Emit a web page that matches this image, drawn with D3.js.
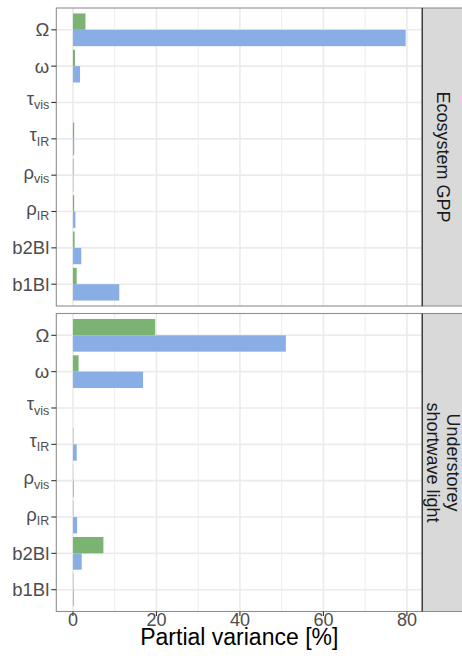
<!DOCTYPE html>
<html>
<head>
<meta charset="utf-8">
<script src="https://cdn.jsdelivr.net/npm/d3@7"></script>
<style>
  html, body { margin: 0; padding: 0; background: #fff; }
  svg { display: block; font-family: "Liberation Sans", Arial, Helvetica, sans-serif; }
</style>
</head>
<body>
<svg id="chart" width="462" height="662"></svg>
<script>
// Parameters (symbol + optional subscript), top to bottom
const paramSymbols    = ["Ω", "ω", "τ", "τ", "ρ", "ρ", "b2Bl", "b1Bl"];
const paramSubscripts = ["",  "",  "vis", "IR", "vis", "IR", "", ""];
const paramKeys = paramSymbols.map((s, i) => s + "_" + paramSubscripts[i]);

// Response variables (facet rows)
const facetLabels = [["Ecosystem GPP"], ["Understorey", "shortwave light"]];

// Partial variance [%], two series per facet (upper bar, lower bar)
const gppSeriesA   = [3.0, 0.5, 0, 0.3, 0.15, 0.3, 0.4, 0.9];
const gppSeriesB   = [79.7, 1.7, 0, 0.3, 0.1, 0.6, 2.0, 11.1];
const lightSeriesA = [19.7, 1.35, 0, 0.1, 0.05, 0.1, 7.3, 0.1];
const lightSeriesB = [51.0, 16.8, 0, 0.9, 0.2, 1.0, 2.1, 0.2];

const seriesKeys = ["A", "B"];
const seriesColors = { A: "#7bb372", B: "#89ade5" };

const xTicks = [0, 20, 40, 60, 80];
const xMinorTicks = [10, 30, 50, 70];
const xTitle = "Partial variance [%]";

const facetData = [
  { A: gppSeriesA, B: gppSeriesB },
  { A: lightSeriesA, B: lightSeriesB }
];

// Layout
const panelLeft = 56.3, panelRight = 422.3, stripRight = 470;
const panels = [[8, 306], [313.5, 611.5]];

const svg = d3.select("#chart");

const maxVal = d3.max(facetData.flatMap(f => [...f.A, ...f.B]));
const pad = maxVal * 0.05;
const x = d3.scaleLinear().domain([-pad, maxVal + pad]).range([panelLeft, panelRight]);

facetData.forEach((fd, pi) => {
  const [top, bottom] = panels[pi];
  const y = d3.scaleBand().domain(paramKeys).range([top, bottom])
    .paddingInner(0.1).paddingOuter(0.15);
  const ySub = d3.scaleBand().domain(seriesKeys).range([0, y.bandwidth()]);
  const center = k => y(k) + y.bandwidth() / 2;

  const g = svg.append("g");

  // panel background
  g.append("rect").attr("x", panelLeft).attr("y", top)
    .attr("width", panelRight - panelLeft).attr("height", bottom - top)
    .attr("fill", "#fff");

  // grid: minor vertical
  g.selectAll(".gmin").data(xMinorTicks).join("line")
    .attr("x1", d => x(d)).attr("x2", d => x(d))
    .attr("y1", top).attr("y2", bottom)
    .attr("stroke", "#ededed").attr("stroke-width", 1);
  // grid: major vertical
  g.selectAll(".gmaj").data(xTicks).join("line")
    .attr("x1", d => x(d)).attr("x2", d => x(d))
    .attr("y1", top).attr("y2", bottom)
    .attr("stroke", "#ebebeb").attr("stroke-width", 1.6);
  // grid: horizontal at categories
  g.selectAll(".gh").data(paramKeys).join("line")
    .attr("x1", panelLeft).attr("x2", panelRight)
    .attr("y1", d => center(d)).attr("y2", d => center(d))
    .attr("stroke", "#ebebeb").attr("stroke-width", 1.6);

  // bars
  seriesKeys.forEach(s => {
    g.selectAll(".bar" + s).data(paramKeys.map((k, i) => ({ k, v: fd[s][i] })))
      .join("rect")
      .attr("x", d => x(Math.min(0, d.v)))
      .attr("y", d => y(d.k) + ySub(s))
      .attr("width", d => Math.abs(x(d.v) - x(0)))
      .attr("height", ySub.bandwidth())
      .attr("fill", seriesColors[s]);
  });

  // panel border
  g.append("rect").attr("x", panelLeft).attr("y", top)
    .attr("width", panelRight - panelLeft).attr("height", bottom - top)
    .attr("fill", "none").attr("stroke", "#8f8f8f").attr("stroke-width", 1.1);

  // strip
  g.append("rect").attr("x", panelRight).attr("y", top)
    .attr("width", stripRight - panelRight).attr("height", bottom - top)
    .attr("fill", "#d9d9d9").attr("stroke", "#8f8f8f").attr("stroke-width", 1.1);
  g.append("line").attr("x1", panelRight).attr("x2", panelRight)
    .attr("y1", top).attr("y2", bottom)
    .attr("stroke", "#3a3a3a").attr("stroke-width", 1.3);

  const lines = facetLabels[pi];
  const st = g.append("text")
    .attr("transform", `translate(443,${(top + bottom) / 2}) rotate(90)`)
    .attr("text-anchor", "middle")
    .attr("font-size", 18).attr("fill", "#1a1a1a");
  lines.forEach((ln, li) => {
    st.append("tspan").attr("x", 0)
      .attr("y", (li - (lines.length - 1) / 2) * 19.5)
      .attr("dominant-baseline", "central")
      .text(ln);
  });

  // y axis ticks and labels
  g.selectAll(".yt").data(paramKeys).join("line")
    .attr("x1", panelLeft - 5).attr("x2", panelLeft)
    .attr("y1", d => center(d)).attr("y2", d => center(d))
    .attr("stroke", "#333").attr("stroke-width", 1.1);

  paramKeys.forEach((k, i) => {
    const sym = paramSymbols[i], sub = paramSubscripts[i];
    const cy = center(k);
    let base = cy + 6.5;
    if (sub) base = sym === "ρ" ? cy + 3.5 : cy + 2.5;
    const t = g.append("text")
      .attr("x", panelLeft - 7).attr("y", base)
      .attr("text-anchor", "end").attr("fill", "#4d4d4d")
      .attr("font-size", 18.5);
    t.append("tspan").text(sym);
    if (sub) {
      t.append("tspan").attr("dy", 4.5).attr("font-size", 12.5).text(sub);
    }
  });
});

// x axis (bottom panel only)
const lastBottom = panels[panels.length - 1][1];
const xAxis = svg.append("g");
xAxis.selectAll("line").data(xTicks).join("line")
  .attr("x1", d => x(d)).attr("x2", d => x(d))
  .attr("y1", lastBottom).attr("y2", lastBottom + 4.5)
  .attr("stroke", "#333").attr("stroke-width", 1.1);
xAxis.selectAll("text").data(xTicks).join("text")
  .attr("x", d => x(d)).attr("y", lastBottom + 14.5)
  .attr("text-anchor", "middle").attr("fill", "#4d4d4d")
  .attr("font-size", 18).text(d => d);

svg.append("text")
  .attr("x", (panelLeft + panelRight) / 2).attr("y", 645)
  .attr("text-anchor", "middle").attr("fill", "#000")
  .attr("font-size", 23).text(xTitle);
</script>
</body>
</html>
